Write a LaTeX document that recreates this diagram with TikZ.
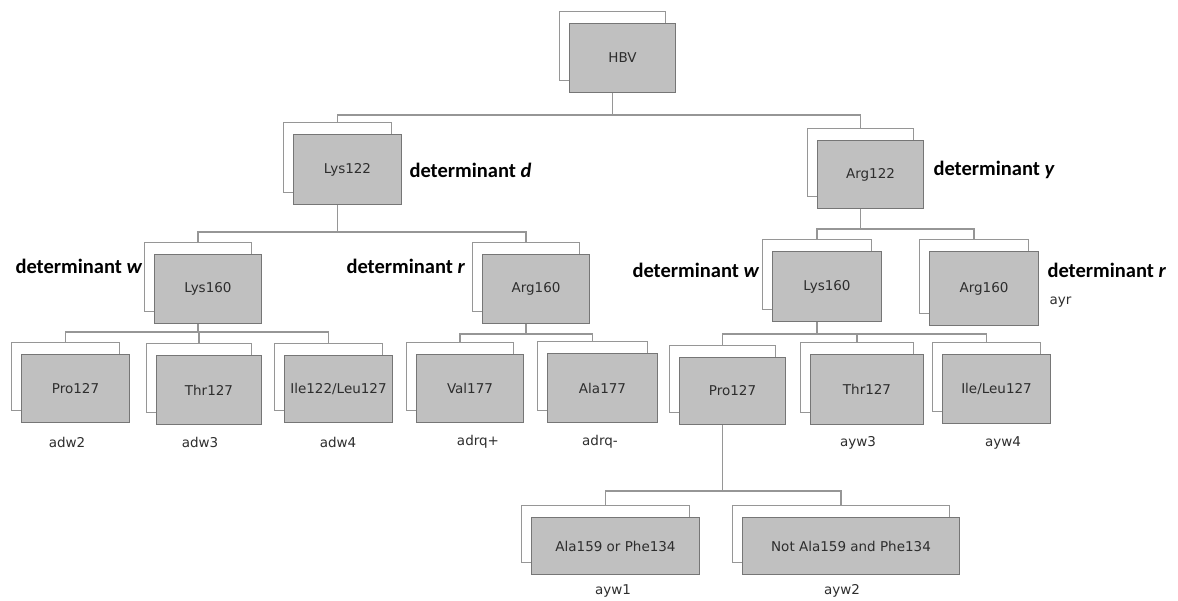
\documentclass[tikz,border=0pt]{standalone}
\usepackage{fontspec}
\setmainfont{DejaVu Sans}
\newfontfamily\detfont{Carlito}
\usetikzlibrary{positioning}

\definecolor{boxgray}{RGB}{192,192,192}
\definecolor{boxedge}{RGB}{118,118,118}
\definecolor{backedge}{RGB}{150,150,150}
\definecolor{linkgray}{RGB}{150,150,150}
\definecolor{txtgray}{RGB}{45,45,45}

\tikzset{
  frontbox/.style={draw=boxedge, fill=boxgray, line width=1pt, anchor=north west,
    inner sep=0pt, text=txtgray, font=\fontsize{13.5}{16}\selectfont},
  backbox/.style={draw=backedge, fill=white, line width=1pt, anchor=north west},
  link/.style={draw=linkgray, line width=1.2pt},
  tag/.style={text=txtgray, font=\fontsize{13.5}{16}\selectfont},
  det/.style={anchor=west, text=black, font=\detfont\bfseries\fontsize{20.5}{24}\selectfont},
}

% name, x, y (top left of the grey box), width, height, text
\newcommand{\duobox}[6]{%
  \node[backbox, minimum width=#4, minimum height=#5] (#1-bk) at (#2-10,#3-12) {};
  \node[frontbox, minimum width=#4, minimum height=#5] (#1) at (#2,#3) {#6};
}

\begin{document}
\begin{tikzpicture}[x=1pt,y=-1pt]
  \useasboundingbox (0,0) rectangle (1178,601);

  \duobox{hbv}{569}{23}{106}{69}{HBV}
  \duobox{lys122}{293}{134}{108}{70}{Lys122}
  \duobox{arg122}{817}{140}{106}{68}{Arg122}

  \duobox{lysa}{154}{254}{107}{69}{Lys160}
  \duobox{arga}{482}{254}{107}{69}{Arg160}
  \duobox{lysb}{772}{251}{109}{70}{Lys160}
  \duobox{argb}{929}{251}{109}{74}{Arg160}

  \duobox{proa}{21}{354}{108}{68}{Pro127}
  \duobox{thra}{156}{355}{105}{69}{Thr127}
  \duobox{ilea}{284}{355}{108}{67}{Ile122/Leu127}
  \duobox{val}{416}{354}{107}{68}{Val177}
  \duobox{ala}{547}{353}{110}{69}{Ala177}
  \duobox{prob}{679}{357}{106}{67}{Pro127}
  \duobox{thrb}{810}{354}{113}{70}{Thr127}
  \duobox{ileb}{942}{354}{108}{69}{Ile/Leu127}

  \duobox{alaphe}{531}{517}{168}{57}{Ala159 or Phe134}
  \duobox{notala}{742}{517}{217}{57}{Not Ala159 and Phe134}

  \foreach \p/\c/\d in {hbv/lys122/22, hbv/arg122/22,
      lys122/lysa/27, lys122/arga/27, arg122/lysb/20, arg122/argb/20,
      lysa/proa/8, lysa/thra/8, lysa/ilea/8, arga/val/10, arga/ala/10,
      lysb/prob/12, lysb/thrb/12, lysb/ileb/12,
      prob/alaphe/66, prob/notala/66}
    \draw[link] (\p-bk.south |- \p.south) -- ++(0,\d) -| (\c-bk.north);

  \node[det] (detd) at (406,170) {determinant \textit{d}};
  \node[det] (dety) at (930,170) {determinant \textit{y}};
  \node[det] (detwa) at (12,266) {determinant \textit{w}};
  \node[det] (detra) at (343,266) {determinant \textit{r}};
  \node[det] (detwb) at (629,270) {determinant \textit{w}};
  \node[det] (detrb) at (1044,270) {determinant \textit{r}};

  \node[tag] (adw2) at (67,442) {adw2};
  \node[tag] (adw3) at (200,442) {adw3};
  \node[tag] (adw4) at (338,442) {adw4};
  \node[tag] (adrqp) at (478,442) {adrq+};
  \node[tag] (adrqm) at (600,442) {adrq-};
  \node[tag] (ayw3) at (858,443) {ayw3};
  \node[tag] (ayw4) at (1003,443) {ayw4};
  \node[tag] (ayw1) at (613,591) {ayw1};
  \node[tag] (ayw2) at (842,591) {ayw2};
  \node[tag, anchor=west] (ayr) at (1046,302) {ayr};
\end{tikzpicture}
\end{document}
